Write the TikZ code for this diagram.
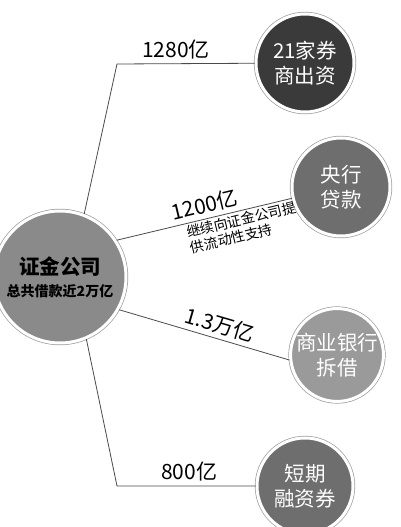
\documentclass[tikz,border=0pt]{standalone}
\usepackage{fontspec}
\newfontfamily\cjk{Noto Sans CJK SC}
\usetikzlibrary{calc}
\definecolor{cHub}{HTML}{8A8A8A}
\definecolor{cDark}{HTML}{3A3A3A}
\definecolor{cMid}{HTML}{6E6E6E}
\definecolor{cLight}{HTML}{9A9A9A}
\definecolor{cRing}{HTML}{9C9C9C}
\definecolor{cLine}{HTML}{4A4A4A}

\begin{document}
\begin{tikzpicture}[
    x=1pt, y=1pt, font=\cjk,
    disc/.style={circle, inner sep=0pt, draw=white, line width=3pt,
                 preaction={draw=cRing, line width=4.4pt},
                 text=white, align=center,
                 font=\cjk\fontsize{20.5}{25}\selectfont},
    link/.style={draw=cLine, line width=0.8pt},
    amt/.style={font=\cjk\fontsize{21}{24}\selectfont, inner sep=4pt},
    note/.style={font=\cjk\fontsize{14}{16}\selectfont, align=left,
                 inner sep=2pt},
]
\useasboundingbox (0,0) rectangle (400,527);

% ===================== Centro =====================
\node[disc, fill=cHub, minimum size=132pt, text=black] (zj) at (60,250)
      {\bfseries 证金公司\\[-3pt]
       {\fontsize{14}{16}\selectfont\bfseries 总共借款近2万亿}};

% ===================== Fuentes =====================
\node[disc, fill=cDark, minimum size=98pt] (qs) at (305,464) {21家券\\商出资};
\node[disc, fill=cMid, minimum size=98pt] (yh) at (341,340) {央行\\贷款};
\node[disc, fill=cLight, minimum size=90pt] (sy) at (337,172) {商业银行\\拆借};
\node[disc, fill=cMid, minimum size=96pt] (dq) at (305,41) {短期\\融资券};

% ===================== Codos =====================
\coordinate (b1) at (117,463);
\coordinate (b4) at (117,41);

% ===================== Conexiones =====================
\draw[link] (zj.69) -- (b1) -- node[amt, above, pos=0.43] {1280亿} (qs);
\draw[link] (zj.33)
      -- node[amt, above, sloped, pos=0.52] {1200亿}
         node[note, below, sloped, pos=0.7] {继续向证金公司提\\供流动性支持}
      (yh.193);
\draw[link] (zj.-29) -- node[amt, above, sloped, pos=0.57] {1.3万亿} (sy.186);
\draw[link] (zj.-67) -- (b4) -- node[amt, above, pos=0.52] {800亿} (dq);

\end{tikzpicture}
\end{document}
